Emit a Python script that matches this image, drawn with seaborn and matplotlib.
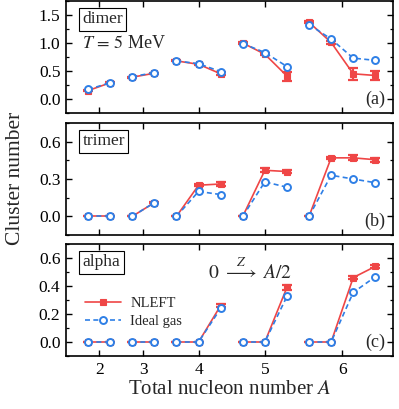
import numpy as np
import pandas as pd
import matplotlib
matplotlib.use("Agg")
import matplotlib.pyplot as plt
import seaborn as sns
from matplotlib.ticker import MultipleLocator

# nucleon number A and the charges Z = 0 ... A/2 shown for each
A_values = [2, 3, 4, 5, 6]
Z_values = [[0, 1], [0, 1], [0, 1, 2], [0, 1, 2], [0, 1, 2, 3]]

# cluster numbers, one value per (A, Z), in the order above
dimer_nleft = [0.15, 0.29, 0.39, 0.46, 0.68, 0.62, 0.45, 1.00, 0.80, 0.41, 1.37, 1.01, 0.45, 0.42]
dimer_nleft_err = [0.01, 0.01, 0.01, 0.01, 0.01, 0.01, 0.03, 0.01, 0.02, 0.08, 0.02, 0.03, 0.11, 0.08]
dimer_ideal = [0.17, 0.29, 0.40, 0.47, 0.68, 0.63, 0.49, 0.99, 0.83, 0.58, 1.33, 1.07, 0.73, 0.69]

trimer_nleft = [0.0, 0.0, 0.0, 0.11, 0.0, 0.25, 0.26, 0.0, 0.37, 0.36, 0.0, 0.47, 0.47, 0.455]
trimer_nleft_err = [0.0, 0.0, 0.0, 0.005, 0.0, 0.01, 0.015, 0.0, 0.015, 0.015, 0.0, 0.01, 0.02, 0.015]
trimer_ideal = [0.0, 0.0, 0.0, 0.11, 0.0, 0.20, 0.175, 0.0, 0.277, 0.234, 0.0, 0.33, 0.30, 0.27]

alpha_nleft = [0.0, 0.0, 0.0, 0.0, 0.0, 0.0, 0.26, 0.0, 0.0, 0.39, 0.0, 0.0, 0.46, 0.54]
alpha_nleft_err = [0.0, 0.0, 0.0, 0.0, 0.0, 0.0, 0.01, 0.0, 0.0, 0.015, 0.0, 0.0, 0.01, 0.01]
alpha_ideal = [0.0, 0.0, 0.0, 0.0, 0.0, 0.0, 0.24, 0.0, 0.0, 0.326, 0.0, 0.0, 0.354, 0.466]

panels = [
    ("dimer", dimer_nleft, dimer_nleft_err, dimer_ideal, "(a)"),
    ("trimer", trimer_nleft, trimer_nleft_err, trimer_ideal, "(b)"),
    ("alpha", alpha_nleft, alpha_nleft_err, alpha_ideal, "(c)"),
]

RED = "#EF4646"
BLUE = "#2E7FE6"

sns.set_theme(style="ticks")
plt.rcParams.update({
    "font.family": ["Liberation Serif", "DejaVu Serif"],
    "mathtext.fontset": "stix",
    "xtick.direction": "in",
    "ytick.direction": "in",
    "xtick.top": True,
    "ytick.right": True,
    "xtick.major.size": 4,
    "ytick.major.size": 4,
    "ytick.minor.size": 2.5,
    "xtick.major.width": 1.0,
    "ytick.major.width": 1.0,
    "ytick.minor.width": 0.9,
    "axes.linewidth": 1.2,
    "axes.edgecolor": "black",
    "xtick.color": "black",
    "ytick.color": "black",
})

# each point sits at its own slot; groups of one A are joined by lines
rows = []
pos = 0
for g, (A, zs) in enumerate(zip(A_values, Z_values)):
    for Z in zs:
        rows.append({"group": g, "A": A, "Z": Z, "pos": pos})
        pos += 1
base = pd.DataFrame(rows)
tick_pos = base.groupby("A")["pos"].mean().values

fig = plt.figure(figsize=(3.99, 4.09), dpi=100)
W, H = 399, 409
left, width = 66 / W, 327 / W
bottoms = [296 / H, 174 / H, 53 / H]
height = 112 / H

ylims = [(-0.25, 1.75), (-0.15, 0.75), (-0.1, 0.7)]
majors = [0.5, 0.3, 0.2]
minors = [0.25, 0.15, 0.1]

axes = []
for i, (name, nleft, nleft_err, ideal, tag) in enumerate(panels):
    ax = fig.add_axes([left, bottoms[i], width, height])
    axes.append(ax)
    df = base.copy()
    df["NLEFT"] = nleft
    df["err"] = nleft_err
    df["Ideal gas"] = ideal

    ax.errorbar(df["pos"], df["NLEFT"], yerr=df["err"], fmt="none",
                ecolor=RED, elinewidth=1.6, capsize=3.5, capthick=1.6, zorder=2)
    sns.lineplot(data=df, x="pos", y="NLEFT", units="group", estimator=None,
                 color=RED, lw=1.2, marker="s", markersize=4.5,
                 mec=RED, mew=0.8, legend=False, ax=ax, zorder=3)
    h_nleft = ax.lines[-1]
    sns.lineplot(data=df, x="pos", y="Ideal gas", units="group", estimator=None,
                 color=BLUE, lw=1.2, ls=(0, (3, 2)), marker="o", markersize=5,
                 mfc="white", mec=BLUE, mew=1.4, legend=False, ax=ax, zorder=4)
    h_ideal = ax.lines[-1]

    ax.set_xlim(-1.0, 13.8)
    ax.set_ylim(*ylims[i])
    ax.yaxis.set_major_locator(MultipleLocator(majors[i]))
    ax.yaxis.set_minor_locator(MultipleLocator(minors[i]))
    ax.set_xticks(tick_pos)
    ax.set_xticklabels([str(a) for a in A_values] if i == 2 else [])
    ax.tick_params(axis="both", labelsize=12.5, pad=4)
    ax.tick_params(axis="x", which="minor", bottom=False, top=False)
    ax.set_xlabel("")
    ax.set_ylabel("")

    ax.text(0.05, 0.91, name, transform=ax.transAxes, fontsize=12.5,
            ha="left", va="top",
            bbox=dict(boxstyle="square,pad=0.2", fc="white", ec="black", lw=0.8))
    ax.text(0.975, 0.12, tag, transform=ax.transAxes, fontsize=13,
            ha="right", va="center")

axes[0].text(0.05, 0.625, r"$T\,=\,5$ MeV", transform=axes[0].transAxes,
             fontsize=13, ha="left", va="center")
axes[2].text(0.435, 0.77, r"$0\ \overset{Z}{\longrightarrow}\ A/2$",
             transform=axes[2].transAxes, fontsize=14, ha="left", va="center")
axes[2].legend([h_nleft, h_ideal], ["NLEFT", "Ideal gas"], loc="center left",
               bbox_to_anchor=(0.058, 0.39), frameon=False, fontsize=10.5,
               borderpad=0, borderaxespad=0, handlelength=2.5,
               handletextpad=0.6, labelspacing=0.3)

axes[2].set_xlabel(r"Total nucleon number $A$", fontsize=15, labelpad=2)
fig.text(0.038, 0.565, "Cluster number", rotation=90, fontsize=15.5,
         ha="center", va="center")

fig.savefig("out.png", dpi=100)
